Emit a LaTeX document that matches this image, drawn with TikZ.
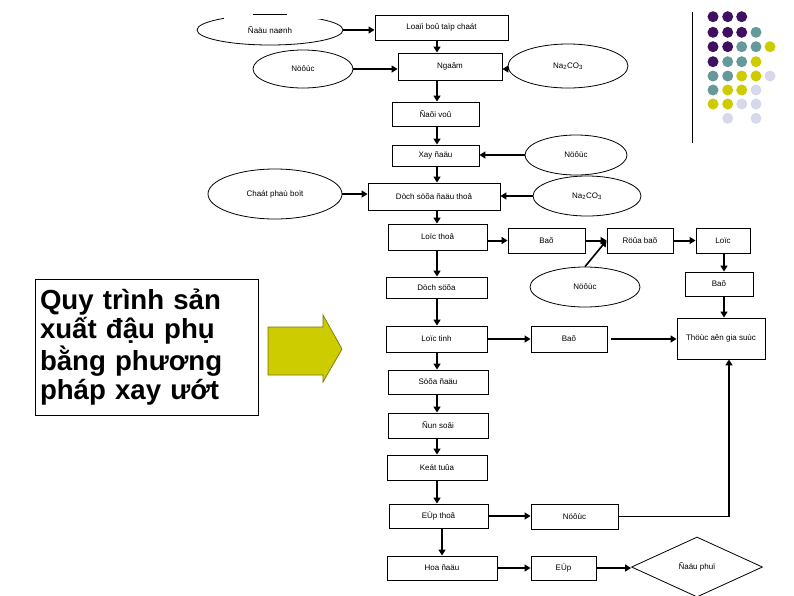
\documentclass[tikz,border=0pt]{standalone}
\usepackage{fontspec}
\setmainfont{Liberation Sans}
\usetikzlibrary{shapes.geometric,arrows.meta,calc}
\definecolor{dpurple}{RGB}{64,16,96}
\definecolor{dteal}{RGB}{102,153,153}
\definecolor{dyellow}{RGB}{204,204,0}
\definecolor{dlav}{RGB}{216,216,236}
\definecolor{arrowfill}{RGB}{204,204,0}
\definecolor{arrowline}{RGB}{120,120,0}
\begin{document}
\begin{tikzpicture}[x=1pt,y=-1pt,
  box/.style={draw, line width=0.9pt, inner sep=0pt, font=\fontsize{8}{9}\selectfont},
  oval/.style={draw, ellipse, line width=0.8pt, inner sep=0pt, font=\fontsize{8}{9}\selectfont},
  flow/.style={line width=2pt, -{Triangle[length=6pt,width=7pt]}},
  thinline/.style={line width=1pt},
  dot/.style={radius=5.5pt}
  ]
\useasboundingbox (0,0) rectangle (794,595);
\coordinate (cx) at (437,0);
\coordinate (cx2) at (442,0);
\coordinate (rx) at (724,0);
\coordinate (rx2) at (729,0);

% decoration
\draw[thinline] (692,12) -- (692,143);
\foreach \x/\y/\col in {
  713/16.7/dpurple, 727.7/16.7/dpurple, 741.7/16.7/dpurple,
  713/32.3/dpurple, 727.7/32.3/dpurple, 741.7/32.3/dpurple, 756/32.3/dteal,
  713/46.7/dpurple, 727.7/46.7/dpurple, 741.7/46.7/dteal, 756/46.7/dteal, 770/46.7/dyellow,
  713/61.7/dpurple, 727.7/61.7/dteal, 741.7/61.7/dteal, 756/61.7/dyellow,
  713/76/dteal, 727.7/76/dteal, 741.7/76/dyellow, 756/76/dyellow, 770/76/dlav,
  713/90/dteal, 727.7/90/dyellow, 741.7/90/dyellow, 756/90/dlav,
  713/104/dyellow, 727.7/104/dyellow, 741.7/104/dlav, 756/104/dlav,
  727.7/118.3/dlav, 756/118.3/dlav}
  \fill[\col] (\x,\y) circle[dot];

% title and big arrow
\node[draw, line width=0.9pt, minimum width=223pt, minimum height=136pt, inner xsep=5pt, inner ysep=0pt,
      text width=213pt, align=left, font=\fontsize{27.6}{29.3}\selectfont\bfseries] (title) at (146.5,347)
      {Quy trình sản\\xuất đậu phụ\\bằng phương\\pháp xay ướt};
\draw[fill=arrowfill, draw=arrowline, line width=0.7pt]
  (268,327) -- (323,327) -- (323,315) -- (342,349) -- (323,382) -- (323,375) -- (268,375) -- cycle;

% ellipses
\node[oval, draw=none, minimum width=146pt, minimum height=30pt] (daunanh) at (270,30) {Ñaäu naønh};
\draw[line width=0.8pt] (daunanh.center) ellipse[x radius=73pt, y radius=15pt];
\fill[white] (224,11) rectangle (322,19.2);
\draw[thinline] (253,14) -- (287,14);
\node[oval, minimum width=100pt, minimum height=38pt] (nuoc1) at (303,69) {Nöôùc};
\node[oval, minimum width=120pt, minimum height=44pt] (na1) at (568,66) {Na\textsubscript{2}CO\textsubscript{3}};
\node[oval, minimum width=102pt, minimum height=40pt] (nuoc2) at (576,155) {Nöôùc};
\node[oval, minimum width=134pt, minimum height=50pt] (chat) at (275,194) {Chaát phaù boït};
\node[oval, minimum width=108pt, minimum height=40pt] (na2) at (587,196) {Na\textsubscript{2}CO\textsubscript{3}};
\node[oval, minimum width=110pt, minimum height=40pt] (nuoc3) at (585,287) {Nöôùc};

% boxes
\node[box, minimum width=133pt, minimum height=25pt] (loai) at (441.5,27.5) {Loaïi boû taïp chaát};
\node[box, minimum width=104pt, minimum height=27pt] (ngam) at (450,66.5) {Ngaâm};
\node[box, minimum width=87pt, minimum height=24pt] (daivo) at (435.5,114) {Ñaõi voû};
\node[box, minimum width=87pt, minimum height=21pt] (xay) at (435.5,155.5) {Xay ñaäu};
\node[box, minimum width=132pt, minimum height=27pt] (dichtho) at (434,196.5) {Dòch söõa ñaäu thoâ};
\node[box, minimum width=99pt, minimum height=26pt] (loctho) at (437.5,237) {Loïc thoâ};
\node[box, minimum width=77pt, minimum height=25pt] (bao1) at (546.5,240.5) {Baõ};
\node[box, minimum width=66pt, minimum height=25pt] (ruabao) at (640,240.5) {Röûa baõ};
\node[box, minimum width=54pt, minimum height=25pt] (loc) at (723,240.5) {Loïc};
\node[box, minimum width=68pt, minimum height=24pt] (bao2) at (719,284) {Baõ};
\node[box, minimum width=88pt, minimum height=41pt] (thucan) at (721,338.5) {Thöùc aên gia suùc};
\node[box, minimum width=101pt, minimum height=21pt] (dichsua) at (436.5,287.5) {Dòch söõa};
\node[box, minimum width=101pt, minimum height=26pt] (loctinh) at (436.5,339) {Loïc tinh};
\node[box, minimum width=76pt, minimum height=26pt] (bao3) at (569,339) {Baõ};
\node[box, minimum width=100pt, minimum height=24pt] (suadau) at (438,382) {Söõa ñaäu};
\node[box, minimum width=100pt, minimum height=25pt] (dunsoi) at (438,425.5) {Ñun soâi};
\node[box, minimum width=100pt, minimum height=25pt] (kettua) at (437,467.5) {Keát tuûa};
\node[box, minimum width=99pt, minimum height=24pt] (eptho) at (438.5,516) {EÙp thoâ};
\node[box, minimum width=87pt, minimum height=25pt] (nuocr) at (574.5,516.5) {Nöôùc};
\node[box, minimum width=110pt, minimum height=24pt] (hoadau) at (442,568) {Hoa ñaäu};
\node[box, minimum width=65pt, minimum height=24pt] (ep) at (563.5,568) {EÙp};
\node[draw, diamond, line width=0.8pt, inner sep=0pt, minimum width=131pt, minimum height=60pt,
      font=\fontsize{8}{9}\selectfont] (dauphu) at (697,567) {Ñaäu phuï};

% vertical main column
\draw[flow] (loai.south -| cx) -- (ngam.north -| cx);
\draw[flow] (ngam.south -| cx) -- (daivo.north -| cx);
\draw[flow] (daivo.south -| cx) -- (xay.north -| cx);
\draw[flow] (xay.south -| cx) -- (dichtho.north -| cx);
\draw[flow] (dichtho.south -| cx) -- (loctho.north -| cx);
\draw[flow] (loctho.south -| cx) -- (dichsua.north -| cx);
\draw[flow] (dichsua.south -| cx) -- (loctinh.north -| cx);
\draw[flow] (loctinh.south -| cx) -- (suadau.north -| cx);
\draw[flow] (suadau.south -| cx) -- (dunsoi.north -| cx);
\draw[flow] (dunsoi.south -| cx) -- (kettua.north -| cx);
\draw[flow] (kettua.south -| cx) -- (eptho.north -| cx);
\draw[flow] (eptho.south -| cx2) -- (hoadau.north -| cx2);

% side inputs
\draw[flow] (daunanh.east) -- (daunanh.east -| loai.west);
\draw[flow] (nuoc1.east) -- (nuoc1.east -| ngam.west);
\draw[flow] (na1.west |- nuoc1.east) -- (nuoc1.east -| ngam.east);
\draw[flow] (nuoc2.west) -- (nuoc2.west -| xay.east);
\draw[flow] (chat.east) -- (chat.east -| dichtho.west);
\draw[flow] (na2.west) -- (na2.west -| dichtho.east);

% by-products
\draw[flow] (loctho.east |- bao1.west) -- (bao1.west);
\draw[flow] (bao1.east) -- (ruabao.west);
\draw[flow] (ruabao.east) -- (loc.west);
\draw[line width=1.6pt, -{Triangle[length=6pt,width=7pt]}] (nuoc3.north) -- (ruabao.west);
\draw[flow] (loc.south -| rx) -- (bao2.north -| rx);
\draw[flow] (bao2.south -| rx) -- (thucan.north -| rx);
\draw[flow] (loctinh.east) -- (bao3.west);
\draw[flow] ([xshift=4pt]bao3.east) -- (bao3.east -| thucan.west);
\draw[flow] (eptho.east) -- (eptho.east -| nuocr.west);
\coordinate (corner) at (nuocr.east -| rx2);
\draw[thinline] (nuocr.east) -- (corner);
\draw[flow] (corner) -- (thucan.south -| rx2);
\draw[flow] (hoadau.east) -- (ep.west);
\draw[flow] (ep.east) -- (ep.east -| dauphu.west);
\end{tikzpicture}
\end{document}
